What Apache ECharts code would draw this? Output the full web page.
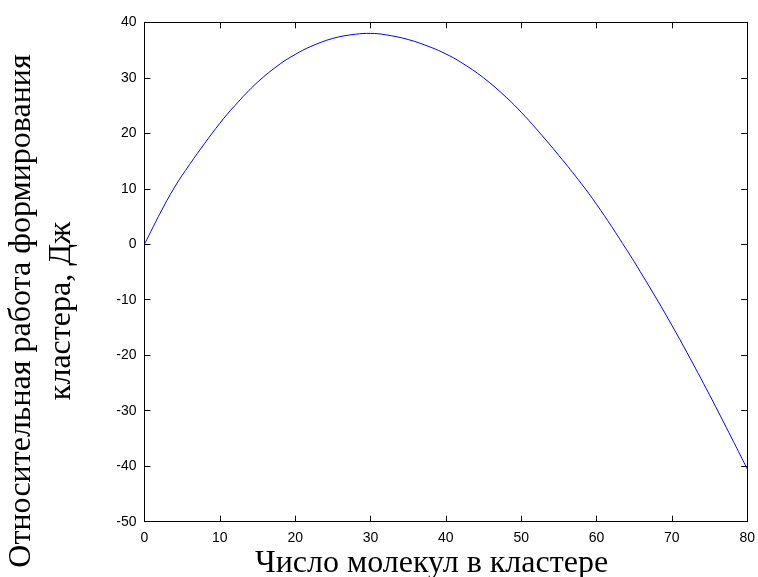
<!DOCTYPE html>
<html>
<head>
<meta charset="utf-8">
<script src="https://cdn.jsdelivr.net/npm/echarts@6/dist/echarts.min.js"></script>
<style>
  html, body { margin: 0; padding: 0; background: #fff; }
  #chart { width: 758px; height: 577px; }
</style>
</head>
<body>
<div id="chart"></div>
<script>
// Number of molecules in the cluster
const moleculeCount = [0, 2, 4, 6, 8, 10, 12, 15, 18, 20, 22, 25, 28, 30, 32, 35, 38, 40,
  42, 45, 48, 50, 52, 55, 58, 60, 62, 64, 65, 68, 70, 72, 75, 78, 80];
// Relative work of cluster formation, J
const formationWork = [0, 5.4, 10.3, 14.4, 18.2, 21.8, 25.0, 29.2, 32.5, 34.2, 35.6, 37.1, 37.85, 38.0,
  37.75, 36.9, 35.5, 34.3, 32.8, 30.0, 26.5, 23.8, 20.8, 16.0, 10.9, 7.2, 3.2, -1.0, -3.15,
  -9.9, -14.6, -19.5, -27.15, -35.1, -40.5];

const xTicks = { min: 0, max: 80, interval: 10 };
const yTicks = { min: -50, max: 40, interval: 10 };

const xTitle = 'Число молекул в кластере';
const yTitle = 'Относительная работа формирования\nкластера, Дж';

const chart = echarts.init(document.getElementById('chart'), null, { renderer: 'canvas' });

const tickLabel = { color: '#000', fontFamily: 'Liberation Sans, Arial, sans-serif', fontSize: 14 };
const axisLine = { show: true, onZero: false, lineStyle: { color: '#000', width: 1 } };
const axisTick = { show: true, inside: true, length: 6, lineStyle: { color: '#000', width: 1 } };

chart.setOption({
  animation: false,
  backgroundColor: '#fff',
  grid: { left: 144.5, right: 8.7, top: 22.3, bottom: 55.3, containLabel: false },
  xAxis: [
    {
      type: 'value', position: 'bottom', min: xTicks.min, max: xTicks.max, interval: xTicks.interval,
      axisLine, axisTick, splitLine: { show: false },
      axisLabel: Object.assign({ margin: 9 }, tickLabel)
    },
    {
      type: 'value', position: 'top', min: xTicks.min, max: xTicks.max, interval: xTicks.interval,
      axisLine, axisTick, splitLine: { show: false }, axisLabel: { show: false }
    }
  ],
  yAxis: [
    {
      type: 'value', position: 'left', min: yTicks.min, max: yTicks.max, interval: yTicks.interval,
      axisLine, axisTick, splitLine: { show: false },
      axisLabel: Object.assign({ margin: 8 }, tickLabel)
    },
    {
      type: 'value', position: 'right', min: yTicks.min, max: yTicks.max, interval: yTicks.interval,
      axisLine, axisTick, splitLine: { show: false }, axisLabel: { show: false }
    }
  ],
  series: [{
    type: 'line',
    xAxisIndex: 0,
    yAxisIndex: 0,
    data: moleculeCount.map((n, i) => [n, formationWork[i]]),
    smooth: 0.4,
    showSymbol: false,
    lineStyle: { color: '#0000ff', width: 1 },
    clip: true
  }],
  graphic: [
    {
      type: 'text',
      x: 431.5,
      y: 564,
      style: {
        text: xTitle,
        fill: '#000',
        font: '32px "Liberation Serif", "Times New Roman", serif',
        textAlign: 'center',
        textVerticalAlign: 'middle'
      }
    },
    {
      type: 'text',
      x: 42,
      y: 311,
      rotation: Math.PI / 2,
      style: {
        text: yTitle,
        fill: '#000',
        font: '32px "Liberation Serif", "Times New Roman", serif',
        lineHeight: 40,
        textAlign: 'center',
        textVerticalAlign: 'middle'
      }
    }
  ]
});
</script>
</body>
</html>
